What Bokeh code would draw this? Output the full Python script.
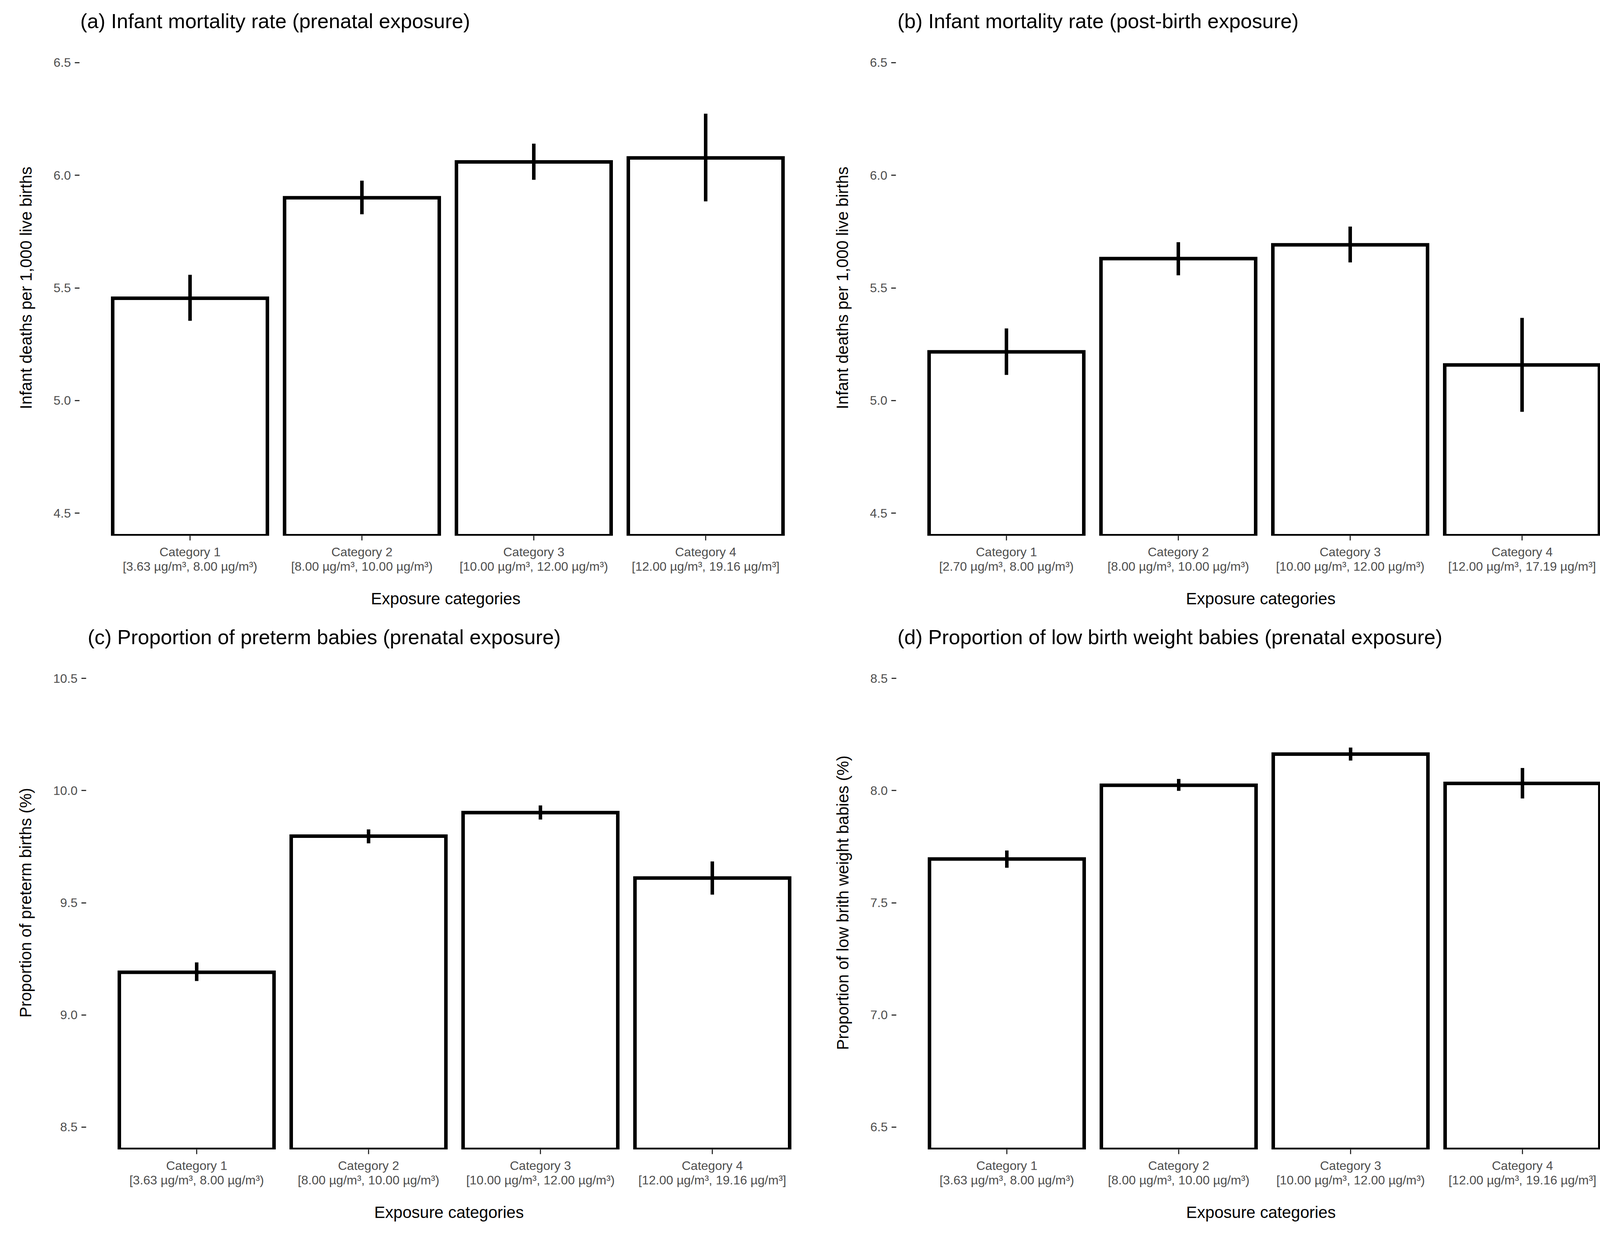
from bokeh.plotting import figure
from bokeh.layouts import row, column
from bokeh.models import Range1d, FixedTicker, PrintfTickFormatter, ColumnDataSource
from bokeh.embed import file_html
from bokeh.resources import INLINE

# ---------------- data ----------------
categories = ["Category 1", "Category 2", "Category 3", "Category 4"]
ranges_prenatal = ["[3.63 µg/m³, 8.00 µg/m³)", "[8.00 µg/m³, 10.00 µg/m³)",
                   "[10.00 µg/m³, 12.00 µg/m³)", "[12.00 µg/m³, 19.16 µg/m³]"]
ranges_postbirth = ["[2.70 µg/m³, 8.00 µg/m³)", "[8.00 µg/m³, 10.00 µg/m³)",
                    "[10.00 µg/m³, 12.00 µg/m³)", "[12.00 µg/m³, 17.19 µg/m³]"]

imr_prenatal = [5.454, 5.900, 6.059, 6.077]
imr_prenatal_lo = [5.354, 5.827, 5.980, 5.884]
imr_prenatal_hi = [5.558, 5.976, 6.140, 6.273]

imr_postbirth = [5.216, 5.630, 5.691, 5.158]
imr_postbirth_lo = [5.114, 5.556, 5.613, 4.950]
imr_postbirth_hi = [5.320, 5.703, 5.772, 5.367]

preterm = [9.190, 9.797, 9.902, 9.610]
preterm_lo = [9.151, 9.765, 9.871, 9.536]
preterm_hi = [9.234, 9.827, 9.934, 9.684]

lbw = [7.695, 8.024, 8.163, 8.032]
lbw_lo = [7.656, 7.999, 8.134, 7.965]
lbw_hi = [7.733, 8.052, 8.192, 8.101]

yticks_imr = [4.5, 5.0, 5.5, 6.0, 6.5]
yticks_preterm = [8.5, 9.0, 9.5, 10.0, 10.5]
yticks_lbw = [6.5, 7.0, 7.5, 8.0, 8.5]

FONT = "Liberation Sans"
UNIT = 440.0  # px per category


def make_panel(title, ylabel, vals, lo, hi, rng_labels, yticks, ylim,
               width, height, frame_left, b_top, b_bottom, title_offset):
    xs = list(range(1, len(categories) + 1))
    x_start = 1 - 283.0 / UNIT
    frame_w = width - frame_left - 2
    x_end = x_start + frame_w / UNIT
    p = figure(width=width, height=height, output_backend="svg",
               toolbar_location=None,
               x_range=Range1d(x_start, x_end), y_range=Range1d(*ylim),
               min_border_left=frame_left, min_border_right=2,
               min_border_top=b_top, min_border_bottom=b_bottom)
    p.outline_line_color = None
    p.grid.visible = False
    p.background_fill_color = "white"
    p.border_fill_color = "white"

    src = ColumnDataSource(dict(x=xs, top=vals, lo=lo, hi=hi))
    p.vbar(x="x", top="top", bottom=0, width=0.9, source=src,
           fill_color="white", line_color="black", line_width=9,
           line_join="miter")
    p.segment(x0="x", y0="lo", x1="x", y1="hi", source=src,
              line_color="black", line_width=9, line_cap="butt")

    # title
    p.title.text = title
    p.title.text_font = FONT
    p.title.text_font_size = "52.5px"
    p.title.text_font_style = "normal"
    p.title.text_color = "black"
    p.title.align = "left"
    p.title.offset = title_offset
    p.title.standoff = 40

    # x axis
    xa = p.xaxis[0]
    xa.ticker = FixedTicker(ticks=xs)
    xa.major_label_overrides = {x: f"{c}\n{r}" for x, c, r in zip(xs, categories, rng_labels)}
    xa.axis_label = "Exposure categories"
    # y axis
    ya = p.yaxis[0]
    ya.ticker = FixedTicker(ticks=yticks)
    ya.formatter = PrintfTickFormatter(format="%.1f")
    ya.axis_label = ylabel

    for ax in (xa, ya):
        ax.axis_line_color = None
        ax.minor_tick_line_color = None
        ax.major_tick_line_color = "#333333"
        ax.major_tick_line_width = 3
        ax.major_tick_in = 0
        ax.major_tick_out = 12
        ax.major_label_text_font = FONT
        ax.major_label_text_font_size = "32px"
        ax.major_label_text_color = "#4d4d4d"
        ax.axis_label_text_font = FONT
        ax.axis_label_text_font_size = "42px"
        ax.axis_label_text_font_style = "normal"
        ax.axis_label_text_color = "black"
        ax.major_label_standoff = 10
    xa.major_label_text_line_height = 1.05
    xa.major_label_standoff = 11
    xa.axis_label_standoff = 38
    ya.axis_label_standoff = 44
    return p


LW, RW = 2080, 2083
TH, BH = 1578, 1563

pa = make_panel("(a) Infant mortality rate (prenatal exposure)",
                "Infant deaths per 1,000 live births",
                imr_prenatal, imr_prenatal_lo, imr_prenatal_hi, ranges_prenatal,
                yticks_imr, (4.4, 6.6), LW, TH, 203, 102, 207, 2)
pb = make_panel("(b) Infant mortality rate (post-birth exposure)",
                "Infant deaths per 1,000 live births",
                imr_postbirth, imr_postbirth_lo, imr_postbirth_hi, ranges_postbirth,
                yticks_imr, (4.4, 6.6), RW, TH, 213, 102, 207, 4)
pc = make_panel("(c) Proportion of preterm babies (prenatal exposure)",
                "Proportion of preterm births (%)",
                preterm, preterm_lo, preterm_hi, ranges_prenatal,
                yticks_preterm, (8.4, 10.6), LW, BH, 220, 91, 199, 4)
pd_ = make_panel("(d) Proportion of low birth weight babies (prenatal exposure)",
                 "Proportion of low brith weight babies (%)",
                 lbw, lbw_lo, lbw_hi, ranges_prenatal,
                 yticks_lbw, (6.4, 8.6), RW, BH, 214, 91, 199, 3)

layout = column(row(pa, pb), row(pc, pd_))

open("out.html", "w").write(file_html(layout, INLINE))
